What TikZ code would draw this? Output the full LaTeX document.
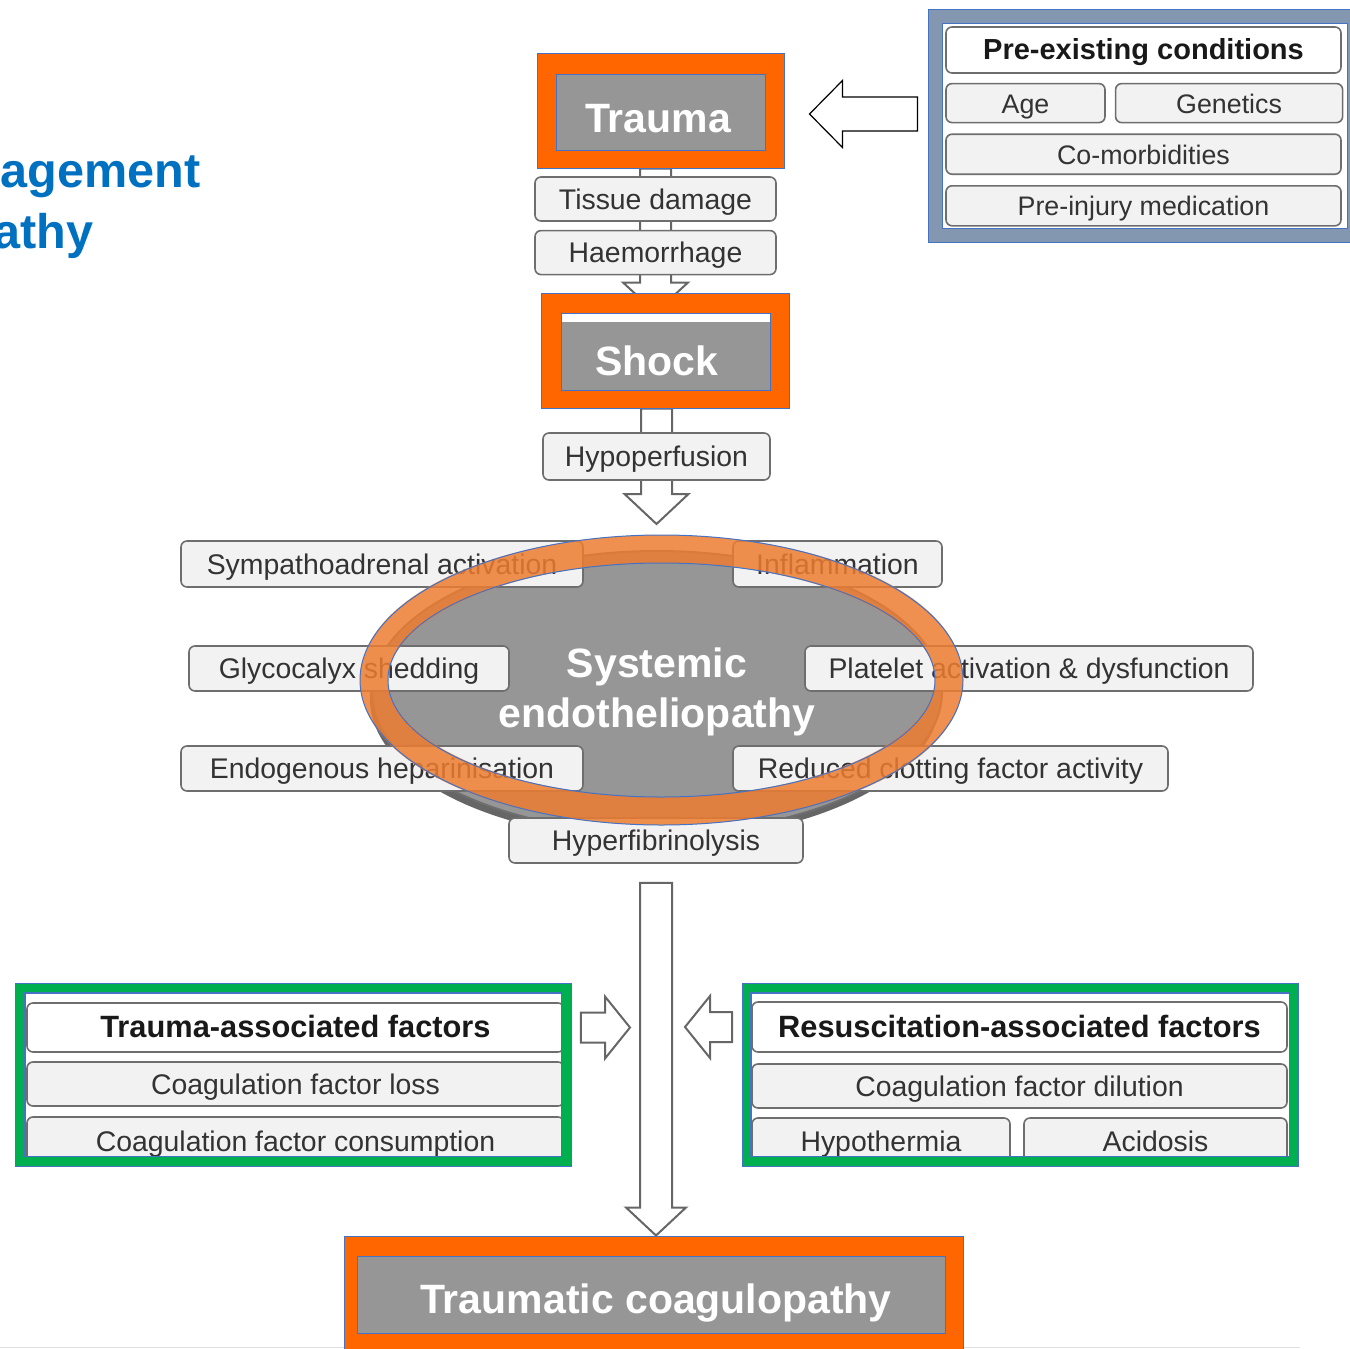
\documentclass[tikz,border=0pt]{standalone}
\usepackage{fontspec}
\setmainfont{Liberation Sans}
\usetikzlibrary{shapes.geometric,positioning,calc,backgrounds}

\definecolor{frameor}{HTML}{FF6600}
\definecolor{edgeblue}{HTML}{4472C4}
\definecolor{framegreen}{HTML}{00B050}
\definecolor{framegrey}{HTML}{8497B0}
\definecolor{keygrey}{HTML}{969696}
\definecolor{shadowgrey}{HTML}{666666}
\definecolor{ringor}{HTML}{ED7D31}
\definecolor{boxfill}{HTML}{F2F2F2}
\definecolor{boxline}{HTML}{6E6E6E}
\definecolor{titleblue}{HTML}{0070C0}

% block arrows: [style]{tail}{tip}{half shaft}{half head}{head length}
\newcommand{\fatdown}[6][fat]{%
  \draw[#1] let \p1=(#2), \p2=(#3) in
    (\x1-#4,\y1) -- (\x1-#4,\y2+#6) -- (\x1-#5,\y2+#6) -- (\x1,\y2)
    -- (\x1+#5,\y2+#6) -- (\x1+#4,\y2+#6) -- (\x1+#4,\y1) -- cycle;}
\newcommand{\fatright}[6][fat]{%
  \draw[#1] let \p1=(#2), \p2=(#3) in
    (\x1,\y1+#4) -- (\x2-#6,\y1+#4) -- (\x2-#6,\y1+#5) -- (\x2,\y1)
    -- (\x2-#6,\y1-#5) -- (\x2-#6,\y1-#4) -- (\x1,\y1-#4) -- cycle;}
\newcommand{\fatleft}[6][fat]{%
  \draw[#1] let \p1=(#2), \p2=(#3) in
    (\x1,\y1+#4) -- (\x2+#6,\y1+#4) -- (\x2+#6,\y1+#5) -- (\x2,\y1)
    -- (\x2+#6,\y1-#5) -- (\x2+#6,\y1-#4) -- (\x1,\y1-#4) -- cycle;}

\begin{document}
\begin{tikzpicture}[
    x=0.5pt, y=-0.5pt,
    sz/.style 2 args={minimum width=#1, minimum height=#2},
    item/.style={draw=boxline, fill=boxfill, rounded corners=3pt, line width=0.8pt,
                 inner sep=0pt, text height=10pt, text depth=0pt,
                 text=black!80, font=\fontsize{14.2}{17}\selectfont},
    small/.style={font=\fontsize{13.4}{16}\selectfont},
    head/.style={item, fill=white, text=black!90, font=\fontsize{15.4}{18}\selectfont\bfseries},
    frame/.style={draw=edgeblue, line width=0.5pt, inner sep=0pt},
    key/.style={frame, fill=keygrey, text=white, text height=20.5pt, text depth=0pt,
                font=\fontsize{20.5}{25}\selectfont\bfseries},
    ttl/.style={inner sep=0pt, text=titleblue, font=\fontsize{24.3}{29}\selectfont\bfseries},
    fat/.style={draw=black!60, fill=white, line width=1pt},
    fatthin/.style={draw=black, fill=white, line width=0.6pt},
  ]
  \useasboundingbox (0,0) rectangle (1350,1349);
  \clip (0,0) rectangle (1350,1349);

  % cut-off title
  \node[ttl, anchor=base west] (ttl1) at (0,187) {agement};
  \node[ttl, anchor=base west] (ttl2) at (-7,248) {athy};
  \draw[black!12] (0,1347) -- (1300,1347);

  % pre-existing conditions
  \node[frame, fill=framegrey, sz={214pt}{116.5pt}] (preframe) at (1142,125.5) {};
  \node[frame, fill=white, sz={202.5pt}{102.5pt}] (preinner) at (1144.5,125.5) {};
  \node[head, font=\fontsize{14.5}{17}\selectfont\bfseries, sz={197.5pt}{23pt}] (pretitle) at (1143.5,50) {Pre-existing conditions};
  \node[item, small, sz={79.5pt}{19.5pt}, below right=4.5pt and 0pt of pretitle.south west] (age) {Age};
  \node[item, small, sz={113.5pt}{19.5pt}, right=4.5pt of age] (genetics) {Genetics};
  \node[item, small, sz={197.5pt}{20pt}, below right=5pt and 0pt of age.south west] (comorb) {Co-morbidities};
  \node[item, small, sz={197.5pt}{20pt}, below=5pt of comorb] (preinj) {Pre-injury medication};

  % trauma -> shock
  \node[frame, fill=frameor, sz={123.5pt}{57.5pt}] (traumaframe) at (660.5,110.5) {};
  \node[key, sz={104.5pt}{38pt}] (trauma) at (660.5,112) {\hspace*{-2.5pt}Trauma};
  \node[item, sz={120.5pt}{22pt}] (tissue) at (655.5,199) {Tissue damage};
  \node[item, sz={120.5pt}{22pt}, below=4pt of tissue] (haem) {Haemorrhage};
  \node[frame, fill=frameor, sz={124pt}{57.5pt}] (shockframe) at (665,350.5) {};
  \node[key, fill=white, text height=24pt, sz={104.5pt}{38.5pt},
        path picture={\fill[keygrey] ([yshift=-4.5pt]path picture bounding box.north west)
                      rectangle (path picture bounding box.south east);}] (shock) at (665.5,351.5)
        {\hspace*{-8.5pt}Shock};
  \node[item, sz={113.5pt}{23.5pt}] (hypo) at (656.5,456.5) {Hypoperfusion};

  % endotheliopathy
  \node[ellipse, fill=shadowgrey, inner sep=0pt, sz={285pt}{141pt}] (endoshadow) at (655,699) {};
  \node[ellipse, draw=boxline, fill=keygrey, line width=1pt, inner sep=0pt, sz={285pt}{141pt},
        text=white, align=center, font=\fontsize{20.5}{25}\selectfont\bfseries] (endo) at (657,692)
        {Systemic\\endotheliopathy};
  \node[item, sz={201pt}{23pt}] (symp) at (382,564) {Sympathoadrenal activation};
  \node[item, sz={104.5pt}{23pt}] (infl) at (837.5,564) {Inflammation};
  \node[item, sz={160pt}{22.5pt}] (glyco) at (349,668.5) {Glycocalyx shedding};
  \node[item, sz={224pt}{22.5pt}] (plate) at (1029,668.5) {Platelet activation \& dysfunction};
  \node[item, sz={201pt}{22.5pt}] (hepar) at (382,768.5) {Endogenous heparinisation};
  \node[item, sz={217.5pt}{22.5pt}] (reduced) at (950.5,768.5) {Reduced clotting factor activity};
  \node[item, sz={147pt}{22.5pt}] (hyperfib) at (656,840.5) {Hyperfibrinolysis};
  \node[ellipse, draw=ringor, draw opacity=0.85, line width=14pt, inner sep=0pt,
        sz={287.5pt}{131pt}] (ring) at (661.5,680) {};
  \draw[edgeblue, line width=0.5pt] (ring.center) ellipse [x radius=150.75pt, y radius=72.5pt]
    (ring.center) ellipse [x radius=136.75pt, y radius=58.5pt];

  % trauma-associated factors
  \node[frame, fill=framegreen, sz={278pt}{91.5pt}] (laframe) at (293,1074.5) {};
  \node[frame, fill=white, sz={268pt}{81.5pt}] (lainner) at (293,1074.5) {};
  \begin{scope}
    \clip (lainner.south west) rectangle (lainner.north east);
    \node[head, sz={268.5pt}{24.5pt}] (tahead) at (295.5,1027.5) {Trauma-associated factors};
    \node[item, sz={268.5pt}{22pt}] (cfloss) at (295.5,1084) {Coagulation factor loss};
    \node[item, sz={268.5pt}{24pt}] (cfcons) at (295.5,1141) {Coagulation factor consumption};
  \end{scope}
  \draw[edgeblue, line width=0.5pt] (lainner.south west) rectangle (lainner.north east);

  % resuscitation-associated factors
  \node[frame, fill=framegreen, sz={278pt}{91.5pt}] (raframe) at (1020,1074.5) {};
  \node[frame, fill=white, sz={269pt}{81.5pt}] (rainner) at (1020,1074.5) {};
  \begin{scope}
    \clip (rainner.south west) rectangle (rainner.north east);
    \node[head, sz={267.5pt}{25pt}] (rhead) at (1019.5,1027) {Resuscitation-associated factors};
    \node[item, sz={267.5pt}{22pt}] (dilut) at (1019.5,1086) {Coagulation factor dilution};
    \node[item, sz={129pt}{23.5pt}] (hypoth) at (881,1141.5) {Hypothermia};
    \node[item, sz={131.5pt}{23.5pt}] (acid) at (1155.5,1141.5) {Acidosis};
  \end{scope}
  \draw[edgeblue, line width=0.5pt] (rainner.south west) rectangle (rainner.north east);

  % outcome
  \node[frame, fill=frameor, sz={309.5pt}{62pt}] (coagframe) at (653.5,1298) {};
  \node[key, text height=19pt, sz={294pt}{38.5pt}] (coag) at (651,1294.5) {\hspace*{5pt}Traumatic coagulopathy};

  % arrows
  \fatleft[fatthin]{$(preframe.west |- traumaframe.east)+(-10,3.5)$}{$(traumaframe.east)+(25,3.5)$}{8.5pt}{16.75pt}{16.5pt}
  \fatdown{$(hyperfib.south)+(0,19)$}{hyperfib.south |- coagframe.north}{8pt}{15pt}{14pt}
  \fatright{$(tahead.east)+(16,0)$}{$(tahead.east -| hyperfib.south)+(-26,0)$}{7.5pt}{15.5pt}{12.5pt}
  \fatleft{$(rhead.west)+(-19,0)$}{$(rhead.west -| hyperfib.south)+(29,0)$}{7.5pt}{15.5pt}{12.5pt}
  \begin{pgfonlayer}{background}
    \fatdown{traumaframe.south -| haem.south}{haem.south |- shock.north}{7.75pt}{16.25pt}{15pt}
    \fatdown{shockframe.south -| hypo.south}{$(hypo.south |- endo.north)+(0,-26)$}{7.75pt}{16pt}{15pt}
  \end{pgfonlayer}

\end{tikzpicture}
\end{document}
